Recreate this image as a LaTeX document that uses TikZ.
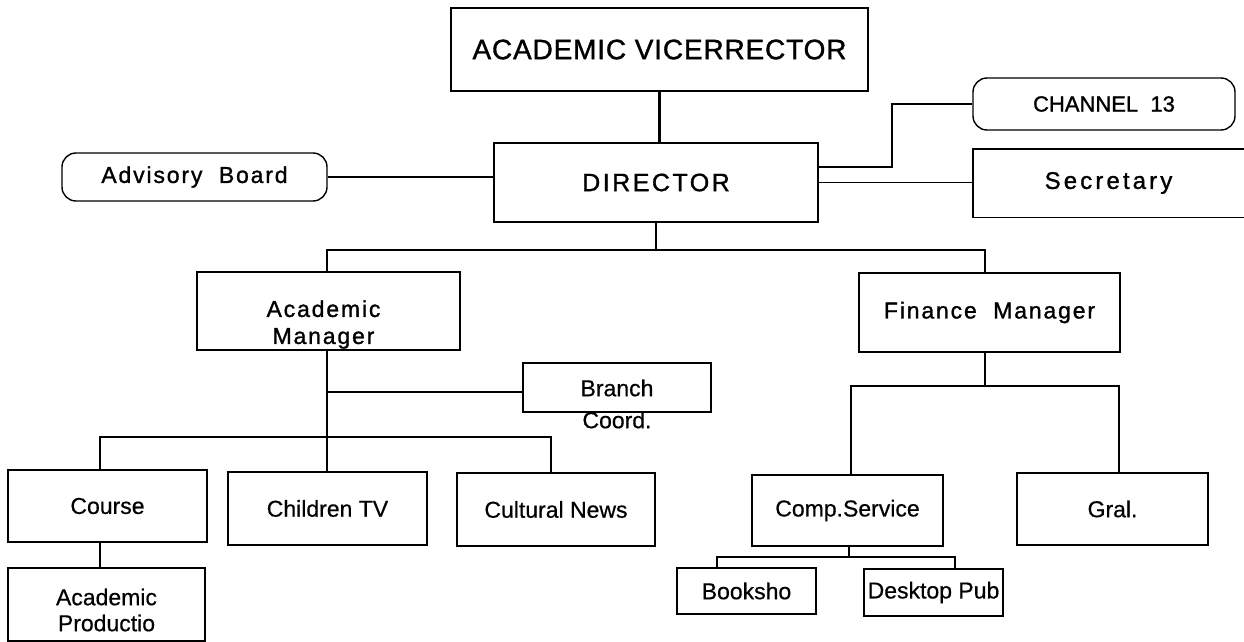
\documentclass[tikz,border=0pt]{standalone}
\usepackage{fontspec}
\setmainfont{Liberation Sans}
\newfontfamily\lsA[LetterSpace=8,FakeBold=1.2]{Liberation Sans}
\newfontfamily\lsB[LetterSpace=3,FakeBold=1.2]{Liberation Sans}
\newfontfamily\lsD[LetterSpace=10,FakeBold=1.2]{Liberation Sans}
\newfontfamily\lsS[LetterSpace=13,FakeBold=1.2]{Liberation Sans}
\newfontfamily\lsC[FakeBold=1.2]{Liberation Sans}
\newfontfamily\lsL[FakeBold=0.5]{Liberation Sans}
\begin{document}
\begin{tikzpicture}[x=1pt,y=-1pt,
  box/.style={draw=black, line width=1.4pt, inner sep=0pt, align=center},
  sz/.style 2 args={minimum width=#1pt, minimum height=#2pt},
  rbox/.style={box, rounded corners=14pt},
  conn/.style={line width=1.7pt},
  thin/.style={line width=1.2pt},
  trunk/.style={line width=2.6pt},
  upf/.style={font={\lsA\fontsize{23}{27}\selectfont}},
  lowf/.style={font={\lsL\fontsize{23}{26}\selectfont}}]
\useasboundingbox (0,0) rectangle (1244,642);
\fill[white] (0,0) rectangle (1244,642);

% nodes
\node[box, sz={417}{83}, font={\lsB\fontsize{28}{32}\selectfont}] (VR) at (659.5,49.5) {ACADEMIC VICERRECTOR};
\node[box, sz={324}{79}, font={\lsD\fontsize{25}{30}\selectfont}] (DIR) at (656,182.5) {DIRECTOR};
\node[rbox, sz={265}{48}, upf] (ADV) at (194.5,177) {Advisory\ \ Board};
\node[rbox, sz={262}{52}, font={\lsC\fontsize{22}{26}\selectfont}] (CH) at (1104,104) {CHANNEL\ \ 13};
\node[inner sep=0pt, sz={271}{68}, font={\lsS\fontsize{24}{28}\selectfont}] (SEC) at (1108.5,183) {Secretary};
\draw[line width=1.4pt] ([xshift=3pt]SEC.north east) -- (SEC.north west) -- (SEC.south west) -- ([xshift=3pt]SEC.south east);

\node[box, sz={263}{78},
  label={[font={\lsA\fontsize{23}{27}\selectfont}, align=center, xshift=-5pt, yshift=-13.5pt]center:Academic\\Manager}] (AM) at (328.5,311) {};
\node[box, sz={261}{79}, upf] (FM) at (989.5,312.5) {Finance\ \ Manager};
\node[box, sz={188}{49},
  label={[font={\lsL\fontsize{23}{32}\selectfont}, align=center, yshift=-16.5pt]center:Branch\\Coord.}] (BR) at (617,387.5) {};

\node[box, sz={199}{72}, lowf] (CO) at (107.5,506) {Course};
\node[box, sz={199}{73}, lowf] (CTV) at (327.5,508.5) {Children TV};
\node[box, sz={198}{73}, lowf] (CN) at (556,509.5) {Cultural News};
\node[box, sz={191}{71}, lowf] (CS) at (847.5,510.5) {Comp.Service};
\node[box, sz={191}{72}, lowf] (GR) at (1112.5,509) {Gral.};
\node[box, sz={197}{73},
  label={[font={\lsL\fontsize{23}{26}\selectfont}, align=center, yshift=-5.5pt]center:Academic\\Productio}] (AP) at (106.5,604.5) {};
\node[box, sz={139}{46}, lowf] (BK) at (746.5,591) {Booksho};
\node[box, sz={139}{47}, lowf] (DP) at (933.5,592.5) {Desktop Pub};

% connectors
\draw[trunk] (VR.south) -- (VR.south |- DIR.north);
\draw[conn] (ADV.east) -- (ADV.east -| DIR.west);
\coordinate (k13) at (892,104);
\draw[conn] ([yshift=15.5pt]DIR.east) -| (k13) -- (CH.west);
\draw[conn] (DIR.east) -- (DIR.east -| SEC.west);

\coordinate (bus1) at (656,250);
\draw[trunk] (DIR.south) -- (bus1);
\draw[conn] ([xshift=-1.5pt]AM.north) |- (bus1) -| ([xshift=-4.5pt]FM.north);

\coordinate (bus2) at (327,437);
\draw[trunk] ([xshift=-1.5pt]AM.south) -- ([xshift=-0.5pt]CTV.north);
\coordinate (brc) at ([yshift=-4.5pt]BR.west);
\draw[conn] (brc) -- (bus2 |- brc);
\draw[conn] ([xshift=-7.5pt]CO.north) |- (bus2) -| ([xshift=-5pt]CN.north);
\draw[trunk] ([xshift=-7.5pt]CO.south) -- ([xshift=-6.5pt]AP.north);

\coordinate (bus3) at (985,386);
\draw[trunk] ([xshift=-4.5pt]FM.south) -- (bus3);
\draw[conn] ([xshift=3.5pt]CS.north) |- (bus3) -| ([xshift=6.5pt]GR.north);

\coordinate (bus4) at (849,557);
\draw[thin] ([xshift=1.5pt]CS.south) -- (bus4);
\draw[thin] ([xshift=-29.5pt]BK.north) |- (bus4) -| ([xshift=21.5pt]DP.north);
\end{tikzpicture}
\end{document}
